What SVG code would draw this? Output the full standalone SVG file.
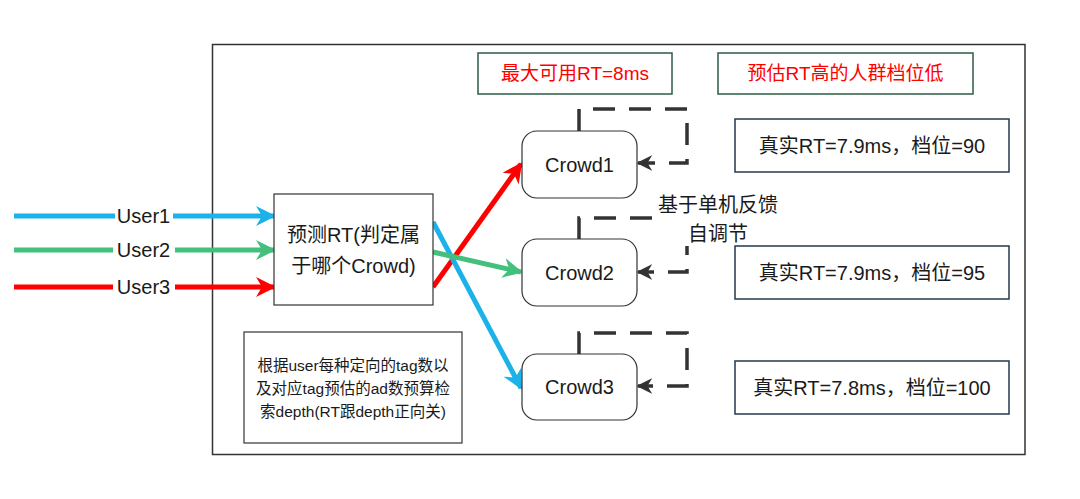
<svg xmlns="http://www.w3.org/2000/svg" width="1080" height="499" viewBox="0 0 1080 499">
<style>
text{font-family:"Liberation Sans","Noto Sans CJK SC",sans-serif;fill:#1a1a1a;text-anchor:middle;dominant-baseline:central}
.t20{font-size:20px}
.t19{font-size:19px}
.t15{font-size:15.5px}
.red{fill:#ff0000}
.box{fill:#fff;stroke:#333;stroke-width:1.2}
.gbox{fill:#fff;stroke:#2e5c44;stroke-width:1.5}
.sbox{fill:#fff;stroke:#23394d;stroke-width:1.5}
.loop{fill:none;stroke:#333;stroke-width:3.5;stroke-dasharray:22 14}
.lbl{fill:#fff;stroke:none}
</style>
<defs>
<marker id="ab" viewBox="0 0 10 10" refX="9" refY="5" markerWidth="4" markerHeight="4" orient="auto" markerUnits="strokeWidth"><path d="M0,0 L10,5 L0,10 L3,5 z" fill="#1ab2e8"/></marker>
<marker id="ag" viewBox="0 0 10 10" refX="9" refY="5" markerWidth="4" markerHeight="4" orient="auto" markerUnits="strokeWidth"><path d="M0,0 L10,5 L0,10 L3,5 z" fill="#42c07c"/></marker>
<marker id="ar" viewBox="0 0 10 10" refX="9" refY="5" markerWidth="4" markerHeight="4" orient="auto" markerUnits="strokeWidth"><path d="M0,0 L10,5 L0,10 L3,5 z" fill="#ff0000"/></marker>
<marker id="ad" viewBox="0 0 10 10" refX="9" refY="5" markerWidth="4.5" markerHeight="4.5" orient="auto" markerUnits="strokeWidth"><path d="M0,0 L10,5 L0,10 L3,5 z" fill="#333"/></marker>
</defs>
<rect width="1080" height="499" fill="#fff"/>
<rect id="frame" x="212.5" y="44.5" width="812.5" height="410" fill="none" stroke="#333" stroke-width="1.5"/>

<g id="connectors">
<line x1="14" y1="216" x2="274" y2="216" stroke="#1ab2e8" stroke-width="5" marker-end="url(#ab)"/>
<line x1="14" y1="250" x2="274" y2="250" stroke="#42c07c" stroke-width="5" marker-end="url(#ag)"/>
<line x1="14" y1="287" x2="274" y2="287" stroke="#ff0000" stroke-width="5" marker-end="url(#ar)"/>
<line x1="433" y1="287" x2="521" y2="164" stroke="#ff0000" stroke-width="5" marker-end="url(#ar)"/>
<line x1="433" y1="222" x2="521" y2="388" stroke="#1ab2e8" stroke-width="5" marker-end="url(#ab)"/>
<line x1="433" y1="252" x2="521" y2="272" stroke="#42c07c" stroke-width="5" marker-end="url(#ag)"/>
<polyline class="loop" points="579,131 579,109 687,109 687,163 638,163" marker-end="url(#ad)"/>
<polyline class="loop" points="579,239 579,218 687,218 687,272 638,272" marker-end="url(#ad)"/>
<polyline class="loop" points="579,354 579,333 687,333 687,386 638,386" marker-end="url(#ad)"/>
<rect x="115" y="205" width="58" height="22" fill="#fff"/>
<rect x="113" y="239" width="62" height="22" fill="#fff"/>
<rect x="113" y="276" width="62" height="22" fill="#fff"/>
<text class="t20" x="143.5" y="216">User1</text>
<text class="t20" x="143.5" y="250">User2</text>
<text class="t20" x="143.5" y="287">User3</text>
</g>

<g id="label-feedback">
<rect class="lbl" x="652" y="192" width="132" height="54"/>
<text class="t20" x="718" y="205">基于单机反馈</text>
<text class="t20" x="718" y="234">自调节</text>
</g>

<g id="predict">
<rect class="box" x="274" y="194" width="159" height="111"/>
<text class="t20" x="353.5" y="235">预测RT(判定属</text>
<text class="t20" x="353.5" y="266">于哪个Crowd)</text>
</g>

<g id="note">
<rect class="box" x="244" y="332" width="218" height="111"/>
<text class="t15" x="353" y="365">根据user每种定向的tag数以</text>
<text class="t15" x="353" y="388">及对应tag预估的ad数预算检</text>
<text class="t15" x="353" y="411">索depth(RT跟depth正向关)</text>
</g>

<g id="crowd1">
<rect class="box" x="522" y="131" width="115" height="67" rx="15"/>
<text class="t20" x="579.5" y="164.5">Crowd1</text>
</g>
<g id="crowd2">
<rect class="box" x="522" y="239" width="115" height="67" rx="15"/>
<text class="t20" x="579.5" y="272.5">Crowd2</text>
</g>
<g id="crowd3">
<rect class="box" x="522" y="354" width="115" height="66" rx="15"/>
<text class="t20" x="579.5" y="387">Crowd3</text>
</g>

<g id="maxrt">
<rect class="gbox" x="478" y="53" width="194" height="41"/>
<text class="t19 red" x="575" y="73.5">最大可用RT=8ms</text>
</g>
<g id="rule">
<rect class="gbox" x="718" y="53" width="255" height="41"/>
<text class="t19 red" x="845.5" y="73.5">预估RT高的人群档位低</text>
</g>

<g id="real1">
<rect class="sbox" x="735" y="119" width="274" height="53"/>
<text class="t20" x="872" y="145.5">真实RT=7.9ms，档位=90</text>
</g>
<g id="real2">
<rect class="sbox" x="735" y="246" width="274" height="53"/>
<text class="t20" x="872" y="272.5">真实RT=7.9ms，档位=95</text>
</g>
<g id="real3">
<rect class="sbox" x="735" y="361" width="274" height="53"/>
<text class="t20" x="872" y="387.5">真实RT=7.8ms，档位=100</text>
</g>
</svg>
